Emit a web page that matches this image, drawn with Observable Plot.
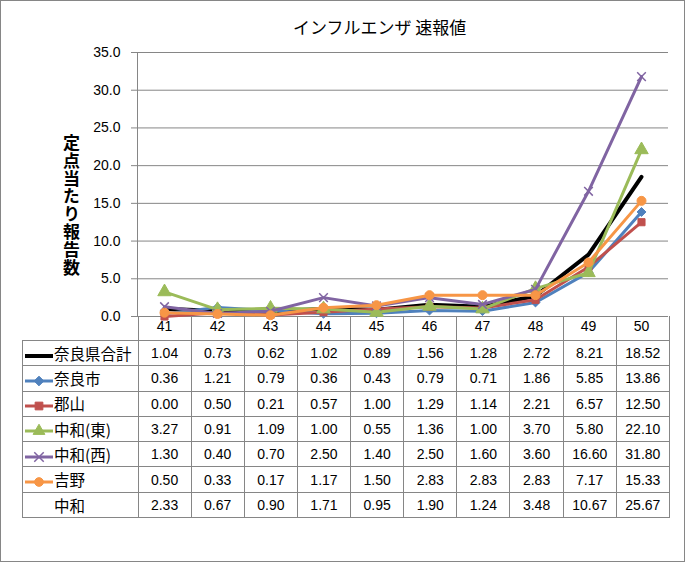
<!DOCTYPE html>
<html><head><meta charset="utf-8">
<script src="https://cdn.jsdelivr.net/npm/d3@7"></script>
<script src="https://cdn.jsdelivr.net/npm/@observablehq/plot@0.6"></script>
<style>
body{margin:0;background:#fff;}
#wrap{position:relative;width:685px;height:562px;overflow:hidden;background:#fff;}
#border{position:absolute;left:0;top:0;width:685px;height:562px;box-sizing:border-box;border:1px solid #868686;pointer-events:none;}
#title{position:absolute;left:293px;top:15px;font:17px "Noto Sans CJK JP",sans-serif;line-height:24px;color:#000;white-space:nowrap;}
#ylab{position:absolute;left:61px;top:134px;font:bold 17px "Noto Sans CJK JP",sans-serif;writing-mode:vertical-rl;text-orientation:upright;letter-spacing:0.8px;line-height:20px;color:#000;}
#plot{position:absolute;left:0;top:0;}
table{position:absolute;left:22px;top:316px;border-collapse:collapse;table-layout:fixed;width:647px;}
td{border:1px solid #868686;padding:0;text-align:center;font:14px "Liberation Sans","Noto Sans CJK JP",sans-serif;color:#000;height:24.3px;line-height:16px;overflow:hidden;white-space:nowrap;}
tr.head td{border-top:none;height:24px;}
td.name{text-align:left;font:15.5px "Noto Sans CJK JP",sans-serif;line-height:18px;}
td.name svg{vertical-align:middle;margin-right:1px;}
</style></head>
<body>
<div id="wrap">
  <div id="plot"></div>
  <div id="title">インフルエンザ 速報値</div>
  <div id="ylab">定点当たり報告数</div>
  <table id="tbl"></table>
  <div id="border"></div>
</div>
<script>
const weeks = ["41","42","43","44","45","46","47","48","49","50"];
const yTicks = [0,5,10,15,20,25,30,35];

const names = ["奈良県合計","奈良市","郡山","中和(東)","中和(西)","吉野","中和"];
const total    = [1.04,0.73,0.62,1.02,0.89,1.56,1.28,2.72,8.21,18.52];
const naraCity = [0.36,1.21,0.79,0.36,0.43,0.79,0.71,1.86,5.85,13.86];
const koriyama = [0.00,0.50,0.21,0.57,1.00,1.29,1.14,2.21,6.57,12.50];
const chuwaE   = [3.27,0.91,1.09,1.00,0.55,1.36,1.00,3.70,5.80,22.10];
const chuwaW   = [1.30,0.40,0.70,2.50,1.40,2.50,1.60,3.60,16.60,31.80];
const yoshino  = [0.50,0.33,0.17,1.17,1.50,2.83,2.83,2.83,7.17,15.33];
const chuwa    = [2.33,0.67,0.90,1.71,0.95,1.90,1.24,3.48,10.67,25.67];

const values = [total, naraCity, koriyama, chuwaE, chuwaW, yoshino, chuwa];
// styles (null = not plotted)
const colors  = ["#000000","#4F81BD","#C0504D","#9BBB59","#8064A2","#F79646",null];
const symbols = [null,"diamond2","square","triangle","times","circle",null];
const widths  = [4,3,3,3,3,3,0];

const marks = [
  Plot.gridY(yTicks, {stroke:"#868686", strokeOpacity:1}),
  Plot.axisY(yTicks, {tickSize:6, tickPadding:11, tickFormat:d=>d.toFixed(1), label:null, stroke:"#868686", fontSize:14}),
  Plot.ruleY([0], {stroke:"#868686"}),
  Plot.frame({anchor:"left", stroke:"#868686"}),
  Plot.axisX({tickSize:0, tickPadding:5, label:null, fontSize:14})
];
names.forEach((n, k) => {
  if (!colors[k]) return;
  const d = weeks.map((w,i)=>({week:w, value:values[k][i]}));
  marks.push(Plot.line(d, {x:"week", y:"value", stroke:colors[k], strokeWidth:widths[k], strokeLinejoin:"round"}));
  if (symbols[k]) {
    const sym = symbols[k];
    const isStroke = sym === "times";
    marks.push(Plot.dot(d, {x:"week", y:"value", symbol:()=>sym, r: sym==="triangle"?5:(sym==="circle"?4.5:4),
      fill: isStroke ? "none" : colors[k], stroke: colors[k], strokeWidth: isStroke?1.5:1}));
  }
});

const chart = Plot.plot({
  width:685, height:341,
  marginTop:52, marginBottom:25, marginLeft:137, marginRight:17,
  style:{fontFamily:'"Liberation Sans","Noto Sans CJK JP",sans-serif', fontSize:"14px", color:"#000", background:"transparent", overflow:"visible"},
  x:{type:"point", domain:weeks, padding:0.5},
  y:{domain:[0,35]},
  symbol:{type:"identity"},
  marks
});
document.getElementById("plot").appendChild(chart);

// data table
const tbl = document.getElementById("tbl");
const colgroup = document.createElement("colgroup");
const c0 = document.createElement("col"); c0.style.width = "115.5px"; colgroup.appendChild(c0);
weeks.forEach(()=>{const c=document.createElement("col"); c.style.width="53.15px"; colgroup.appendChild(c);});
tbl.appendChild(colgroup);
const head = document.createElement("tr"); head.className="head";
const h0 = document.createElement("td"); h0.style.border="none"; head.appendChild(h0);
weeks.forEach(()=>{const td=document.createElement("td"); head.appendChild(td);});
tbl.appendChild(head);

function keySvg(k){
  const ns="http://www.w3.org/2000/svg";
  const svg=document.createElementNS(ns,"svg");
  svg.setAttribute("width","30"); svg.setAttribute("height","14");
  if (colors[k]) {
    const l=document.createElementNS(ns,"line");
    l.setAttribute("x1","2"); l.setAttribute("x2","30"); l.setAttribute("y1","7"); l.setAttribute("y2","7");
    l.setAttribute("stroke",colors[k]); l.setAttribute("stroke-width",widths[k]);
    svg.appendChild(l);
    if (symbols[k]) {
      const map={diamond2:d3.symbolDiamond2, square:d3.symbolSquare, triangle:d3.symbolTriangle, times:d3.symbolTimes, circle:d3.symbolCircle};
      const p=document.createElementNS(ns,"path");
      p.setAttribute("d", d3.symbol(map[symbols[k]], 60)());
      p.setAttribute("transform","translate(16,7)");
      const st = symbols[k]==="times";
      p.setAttribute("fill", st?"none":colors[k]); p.setAttribute("stroke",colors[k]); p.setAttribute("stroke-width", st?1.5:1);
      svg.appendChild(p);
    }
  }
  return svg;
}
names.forEach((n,k)=>{
  const tr=document.createElement("tr");
  const tdn=document.createElement("td"); tdn.className="name";
  tdn.appendChild(keySvg(k));
  tdn.appendChild(document.createTextNode(n));
  tr.appendChild(tdn);
  values[k].forEach(v=>{const td=document.createElement("td"); td.textContent=v.toFixed(2); tr.appendChild(td);});
  tbl.appendChild(tr);
});
</script>
</body></html>
